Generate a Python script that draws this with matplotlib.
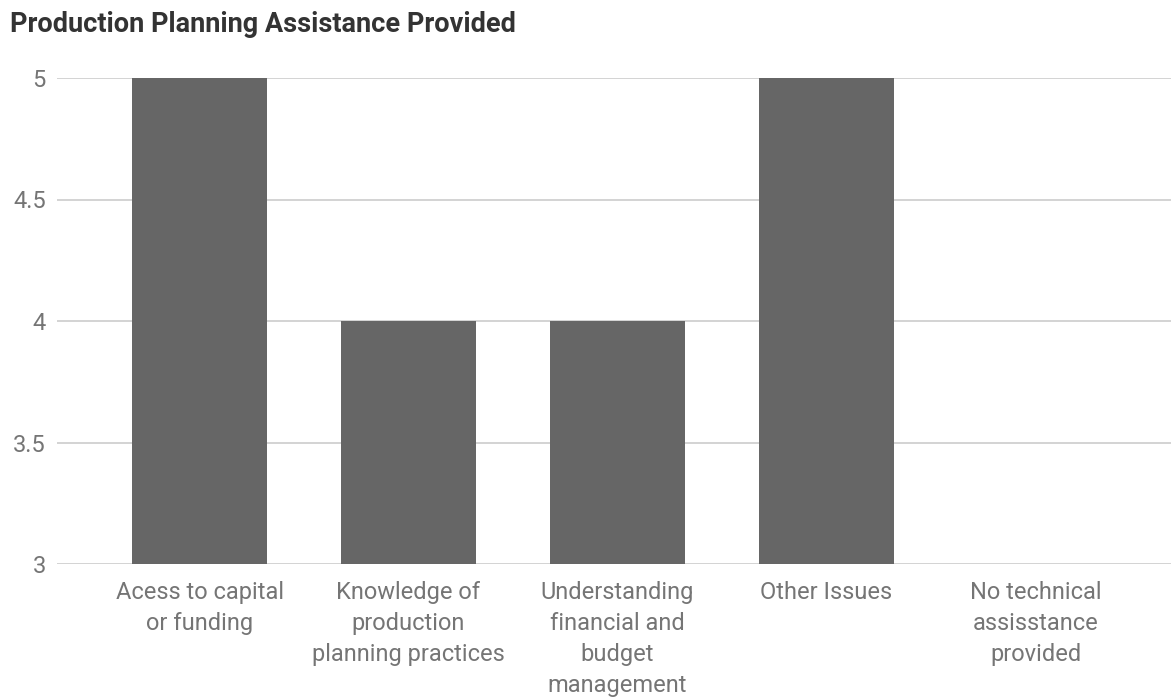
import matplotlib
matplotlib.use("Agg")
import matplotlib.pyplot as plt

# Categories and scores
categories = [
    "Acess to capital\nor funding",
    "Knowledge of\nproduction\nplanning practices",
    "Understanding\nfinancial and\nbudget\nmanagement",
    "Other Issues",
    "No technical\nassisstance\nprovided",
]
values = [5, 4, 4, 5, 3]
y_ticks = [3, 3.5, 4, 4.5, 5]
y_labels = ["3", "3.5", "4", "4.5", "5"]

plt.rcParams["font.family"] = ["Roboto", "DejaVu Sans"]

W, H = 1171, 698
fig = plt.figure(figsize=(W / 100, H / 100), dpi=100)
ax = fig.add_axes([57 / W, (H - 564) / H, (W - 57) / W, (564 - 78) / H])

x = list(range(len(categories)))
ax.bar(x, values, width=0.646, color="#666666", zorder=3)

ax.set_ylim(3, 5)
ax.set_xlim((57 - 199.5) / 209, (1171 - 199.5) / 209)
ax.set_yticks(y_ticks)
ax.set_yticklabels(y_labels)
ax.set_xticks(x)
ax.set_xticklabels(categories, linespacing=1.45)

ax.grid(axis="y", color="#cccccc", linewidth=1.2, zorder=0)
for s in ax.spines.values():
    s.set_visible(False)
ax.tick_params(axis="both", length=0, labelsize=17, colors="#757575")
ax.tick_params(axis="y", pad=8)
ax.tick_params(axis="x", pad=12)

fig.text(10 / W, 1 - 24 / H, "Production Planning Assistance Provided",
         fontsize=19.5, fontweight="bold", color="#333333", va="center", ha="left")

fig.savefig("out.png", dpi=100, facecolor="white")
